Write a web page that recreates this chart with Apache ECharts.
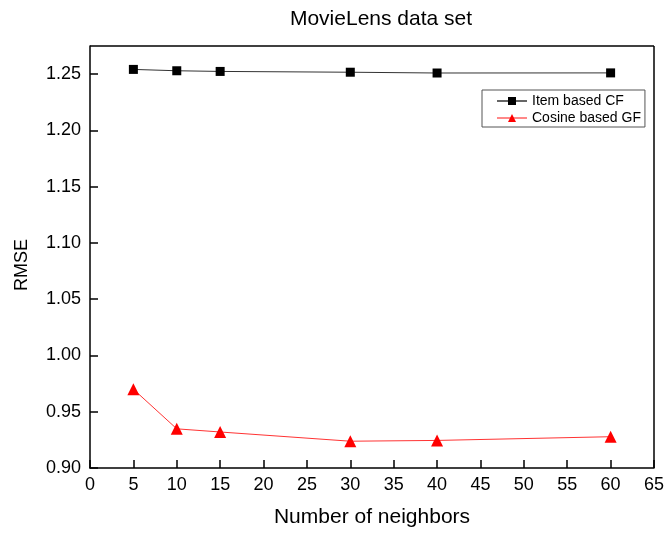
<!DOCTYPE html>
<html><head><meta charset="utf-8">
<script src="https://cdn.jsdelivr.net/npm/echarts@6/dist/echarts.min.js"></script>
<style>html,body{margin:0;padding:0;background:#fff}#c{width:667px;height:535px}</style>
</head><body><div id="c"></div>
<script>
const neighbors = [5, 10, 15, 30, 40, 60];
const itemCF = [1.2542, 1.2530, 1.2524, 1.2517, 1.2510, 1.2511];
const cosineGF = [0.9700, 0.9348, 0.9320, 0.9238, 0.9245, 0.9278];
const seriesNames = ['Item based CF', 'Cosine based GF'];
const font = 'Liberation Sans, Arial, sans-serif';
const chart = echarts.init(document.getElementById('c'));
chart.setOption({
  animation: false,
  backgroundColor: '#fff',
  title: {text: 'MovieLens data set', left: 376, top: 4, textAlign: 'center',
    textStyle: {fontFamily: font, fontSize: 21, fontWeight: 'normal', color: '#000'}},
  grid: {left: 90, right: 11, top: 46, bottom: 67},
  legend: {
    orient: 'vertical', left: 482, top: 90,
    borderColor: '#555', borderWidth: 1, padding: [4, 4, 2, 14], itemGap: 3,
    itemWidth: 30, itemHeight: 10,
    textStyle: {fontFamily: font, fontSize: 14, color: '#000'},
    data: [
      {name: seriesNames[0], lineStyle: {color: '#666'}},
      {name: seriesNames[1], lineStyle: {color: '#f88'}}
    ]
  },
  graphic: [{type: 'text', left: 13, top: 239, rotation: Math.PI / 2,
    style: {text: 'RMSE', font: '18px ' + font, fill: '#000'}}],
  xAxis: {
    type: 'value', min: 0, max: 65, interval: 5,
    name: 'Number of neighbors', nameLocation: 'middle', nameGap: 39,
    nameTextStyle: {fontFamily: font, fontSize: 21, color: '#000'},
    axisLine: {show: true, lineStyle: {color: '#000', width: 1.5}},
    axisTick: {show: true, inside: true, length: 8, lineStyle: {color: '#000', width: 1.5}},
    axisLabel: {fontFamily: font, fontSize: 18, color: '#000', margin: 8},
    splitLine: {show: false}
  },
  yAxis: {
    type: 'value', min: 0.90, max: 1.275, interval: 0.05,
    axisLine: {show: true, lineStyle: {color: '#000', width: 1.5}},
    axisTick: {show: true, inside: true, length: 8, lineStyle: {color: '#000', width: 1.5}},
    axisLabel: {fontFamily: font, fontSize: 18, color: '#000', margin: 9,
      formatter: v => v.toFixed(2), showMaxLabel: false},
    splitLine: {show: false}
  },
  series: [
    {name: seriesNames[0], type: 'line', data: neighbors.map((x, i) => [x, itemCF[i]]),
      symbol: 'rect', symbolSize: 9, itemStyle: {color: '#000'},
      lineStyle: {color: '#333', width: 1}},
    {name: seriesNames[1], type: 'line', data: neighbors.map((x, i) => [x, cosineGF[i]]),
      symbol: 'triangle', symbolSize: 12, itemStyle: {color: '#f00'},
      lineStyle: {color: '#f33', width: 1}},
    {type: 'line', data: [], markLine: {silent: true, symbol: 'none', label: {show: false},
      lineStyle: {color: '#000', width: 1.5, type: 'solid'},
      data: [[{coord: [0, 1.275]}, {coord: [65, 1.275]}], [{coord: [65, 0.90]}, {coord: [65, 1.275]}]]}}
  ]
});
</script></body></html>
